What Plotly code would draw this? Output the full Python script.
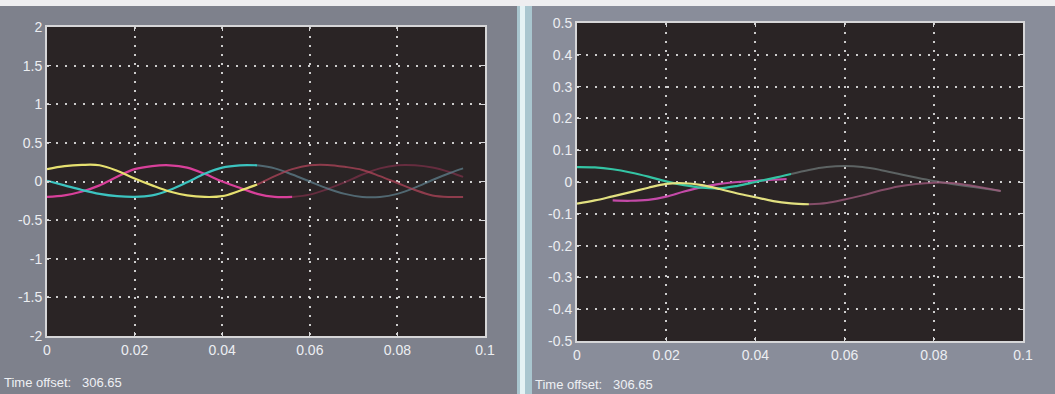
import numpy as np
import plotly.graph_objects as go

# ---------------- data ----------------
t = [0, 0.004, 0.008, 0.012, 0.016, 0.020, 0.024, 0.028, 0.032, 0.036, 0.040,
     0.044, 0.048, 0.052, 0.056, 0.060, 0.064, 0.068, 0.072, 0.076, 0.080,
     0.084, 0.088, 0.092, 0.095]

left_yellow = [0.16, 0.20, 0.215, 0.21, 0.14, 0.04, -0.05, -0.13, -0.18, -0.20, -0.19,
               -0.12, -0.04, 0.07, 0.16, 0.21, 0.215, 0.19, 0.15, 0.07, -0.02,
               -0.11, -0.18, -0.20, -0.20]
left_cyan = [0.01, -0.05, -0.11, -0.16, -0.19, -0.20, -0.18, -0.11, -0.01, 0.10, 0.18,
             0.21, 0.21, 0.17, 0.09, 0.00, -0.09, -0.16, -0.20, -0.20, -0.16,
             -0.08, 0.02, 0.11, 0.17]
left_magenta = [-0.20, -0.18, -0.13, -0.05, 0.06, 0.16, 0.20, 0.21, 0.18, 0.10, 0.00,
                -0.08, -0.16, -0.20, -0.20, -0.17, -0.10, -0.01, 0.09, 0.17, 0.21,
                0.21, 0.18, 0.12, 0.06]

right_cyan = [0.047, 0.046, 0.040, 0.030, 0.017, 0.002, -0.010, -0.018, -0.020, -0.012, 0.000,
              0.012, 0.025, 0.038, 0.047, 0.050, 0.047, 0.038, 0.026, 0.014, 0.003,
              -0.006, -0.014, -0.022, -0.028]
right_yellow = [-0.068, -0.058, -0.045, -0.032, -0.018, -0.006, -0.004, -0.010, -0.022, -0.036, -0.048,
                -0.060, -0.067, -0.070, -0.066, -0.055, -0.042, -0.027, -0.014, -0.006, -0.002,
                -0.003, -0.010, -0.020, -0.028]
t_right_magenta = [0.008, 0.012, 0.016, 0.020, 0.024, 0.028, 0.032, 0.036, 0.040, 0.044, 0.047]
right_magenta = [-0.058, -0.059, -0.056, -0.046, -0.030, -0.016, -0.006, 0.000, 0.004, 0.007, 0.009]

x_ticks = [0, 0.02, 0.04, 0.06, 0.08, 0.1]
x_labels = ["0", "0.02", "0.04", "0.06", "0.08", "0.1"]
yl_ticks = [2, 1.5, 1, 0.5, 0, -0.5, -1, -1.5, -2]
yl_labels = ["2", "1.5", "1", "0.5", "0", "-0.5", "-1", "-1.5", "-2"]
yr_ticks = [0.5, 0.4, 0.3, 0.2, 0.1, 0, -0.1, -0.2, -0.3, -0.4, -0.5]
yr_labels = ["0.5", "0.4", "0.3", "0.2", "0.1", "0", "-0.1", "-0.2", "-0.3", "-0.4", "-0.5"]
offset_text = "Time offset:&nbsp;&nbsp;&nbsp;306.65"

# ---------------- figure ----------------
W, H = 1055, 394
fig = go.Figure()


def seg(tt, vv, split, bright, faded, xa, ya, faded_opacity=0.75):
    tt = np.asarray(tt); vv = np.asarray(vv)
    idx = np.where(tt <= split + 1e-9)[0]
    last = idx[-1]
    fig.add_trace(go.Scatter(x=tt[:last + 1], y=vv[:last + 1], mode="lines",
                             line=dict(color=bright, width=2.2, shape="spline", smoothing=1.0),
                             xaxis=xa, yaxis=ya, showlegend=False, hoverinfo="skip"))
    if faded is not None and last < len(tt) - 1:
        fig.add_trace(go.Scatter(x=tt[last:], y=vv[last:], mode="lines",
                                 line=dict(color=faded, width=2, shape="spline", smoothing=1.0),
                                 opacity=faded_opacity,
                                 xaxis=xa, yaxis=ya, showlegend=False, hoverinfo="skip"))


# left panel
seg(t, left_magenta, 0.056, "#d8409a", "#7a3048", "x", "y")
seg(t, left_cyan, 0.048, "#3cc4c0", "#5f7f8c", "x", "y")
seg(t, left_yellow, 0.048, "#e6e070", "#b0455a", "x", "y")
# right panel
seg(t_right_magenta, right_magenta, 0.05, "#c44aa8", None, "x2", "y2")
seg(t, right_cyan, 0.048, "#34c4a4", "#6e7878", "x2", "y2")
seg(t, right_yellow, 0.052, "#e2e080", "#a45c80", "x2", "y2")

# panel geometry (pixels)
Lx0, Lx1, Ly0, Ly1 = 47, 485, 27, 336
Rx0, Rx1, Ry0, Ry1 = 577, 1023, 23, 341

grid = dict(showgrid=True, gridcolor="rgba(235,235,235,0.85)", gridwidth=1.6,
            griddash="2px,7px", showline=True, linecolor="#d6d6d8", linewidth=2,
            mirror="ticks", ticks="inside", ticklen=4, tickcolor="#d6d6d8",
            zeroline=False, automargin=False,
            tickfont=dict(family="Liberation Sans", size=14, color="#eceef2"),
            fixedrange=True)

BG = "#2a2425"
fig.update_layout(
    width=W, height=H, autosize=False,
    margin=dict(l=0, r=0, t=0, b=0, pad=0),
    paper_bgcolor="#858893",
    plot_bgcolor=BG,
    xaxis=dict(domain=[Lx0 / W, Lx1 / W], range=[0, 0.1], tickvals=x_ticks, ticktext=x_labels,
               anchor="y", **grid),
    yaxis=dict(domain=[1 - Ly1 / H, 1 - Ly0 / H], range=[-2, 2], tickvals=yl_ticks,
               ticktext=yl_labels, anchor="x", **grid),
    xaxis2=dict(domain=[Rx0 / W, Rx1 / W], range=[0, 0.1], tickvals=x_ticks, ticktext=x_labels,
                anchor="y2", **grid),
    yaxis2=dict(domain=[1 - Ry1 / H, 1 - Ry0 / H], range=[-0.5, 0.5], tickvals=yr_ticks,
                ticktext=yr_labels, anchor="x2", **grid),
    shapes=[
        dict(type="rect", xref="paper", yref="paper", x0=0, x1=517 / W, y0=0, y1=1,
             fillcolor="#7e818c", line=dict(width=0), layer="below"),
        dict(type="rect", xref="paper", yref="paper", x0=532 / W, x1=1, y0=0, y1=1,
             fillcolor="#898d9a", line=dict(width=0), layer="below"),
        dict(type="rect", xref="paper", yref="paper", x0=517 / W, x1=532 / W, y0=0, y1=1,
             fillcolor="#a9c6cf", line=dict(width=0), layer="below"),
        dict(type="rect", xref="paper", yref="paper", x0=520 / W, x1=525 / W, y0=0, y1=1,
             fillcolor="#e4f2f4", line=dict(width=0), layer="below"),
        dict(type="rect", xref="paper", yref="paper", x0=0, x1=1, y0=1 - 6 / H, y1=1,
             fillcolor="#eeeef0", line=dict(width=0), layer="below"),
        dict(type="rect", xref="x domain", yref="y domain", x0=0, x1=1, y0=0, y1=1,
             fillcolor=BG, line=dict(width=0), layer="below"),
        dict(type="rect", xref="x2 domain", yref="y2 domain", x0=0, x1=1, y0=0, y1=1,
             fillcolor=BG, line=dict(width=0), layer="below"),
    ],
    annotations=[
        dict(text=offset_text, xref="paper", yref="paper", x=2 / W, y=1 - 382 / H,
             xanchor="left", yanchor="middle", showarrow=False,
             font=dict(family="Liberation Sans Narrow, Liberation Sans", size=13, color="#eef0f4")),
        dict(text=offset_text, xref="paper", yref="paper", x=533 / W, y=1 - 384 / H,
             xanchor="left", yanchor="middle", showarrow=False,
             font=dict(family="Liberation Sans Narrow, Liberation Sans", size=13, color="#eef0f4")),
    ],
)

fig.write_html("out.html", config={"displayModeBar": False},
               post_script="document.body.style.margin='0';document.body.style.overflow='hidden';")
